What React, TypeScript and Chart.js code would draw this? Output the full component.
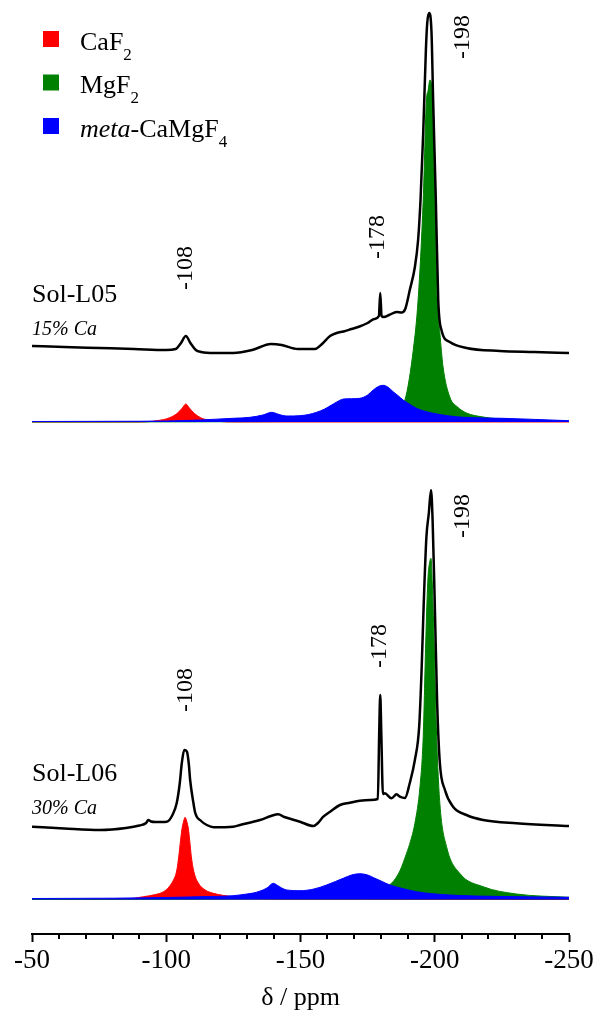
import React, { useEffect, useRef } from "react";
import { Chart, registerables } from "chart.js";

Chart.register(...registerables);

const FONT = '"Liberation Serif", "Times New Roman", serif';

// x-axis
const X_MIN = -250;
const X_MAX = -50;
const MAJOR_STEP = 50;
const MINOR_STEP = 10;
const X_TITLE = "δ / ppm";

// Sol-L05 experimental spectrum (ppm, stacked intensity)
const l05ExpPpm = [-50, -62, -75, -88, -100, -103.5, -105.5, -107.3, -109, -111, -113, -118, -125, -132, -139, -143, -149, -155.4, -158, -161, -163.5, -166, -169, -172, -175, -177.5, -179.2, -179.7, -180.2, -181, -183, -185.8, -187.6, -189, -190.7, -192.6, -193.8, -194.7, -195.7, -196.7, -197.2, -197.9, -198.8, -199.4, -200.4, -201.3, -202.5, -205.6, -211.8, -224.2, -237, -250];
const l05ExpInt = [588, 587, 586, 585, 584, 585, 591, 598, 591, 584, 582, 581, 581, 584, 590, 589, 585, 585, 590, 598, 601, 602.5, 605, 607.5, 611, 615, 618, 641, 618, 617, 619, 622, 621.5, 625, 644, 667, 694, 734, 801, 884, 911, 921, 901, 834, 734, 634, 604, 592, 586, 583, 582, 581];

// Sol-L05 fitted components
const l05CaF2Ppm = [-50, -90, -97, -101, -104, -106, -107.3, -108.6, -110.5, -113, -117, -125, -250];
const l05CaF2Int = [512, 512, 513.5, 516, 520.5, 526, 530, 526, 520.5, 516, 513.5, 512, 512];
const l05MgF2Ppm = [-50, -170, -180, -185, -188.9, -192, -193.8, -195.7, -196.9, -197.5, -198.2, -198.9, -199.4, -200, -200.9, -201.9, -203.1, -205.6, -208.5, -211.8, -218, -224.2, -250];
const l05MgF2Int = [512, 513, 516, 522, 534, 584, 634, 734, 834, 843, 854, 845, 801, 734, 634, 601, 567, 537, 527, 521, 517, 515, 513];
const l05MetaPpm = [-50, -80, -100, -112.6, -124.9, -131.2, -136, -139.3, -142, -144.9, -149.8, -153, -156, -159, -162.2, -164.5, -166, -169, -172.1, -175, -177.1, -179, -180.6, -182.5, -184.5, -186.5, -188.2, -190.5, -193.2, -196, -199.4, -205.6, -212, -225.3, -250];
const l05MetaInt = [512.5, 512.7, 513, 514, 515.7, 516.7, 519, 521.7, 519.5, 518, 518.3, 519.5, 521.7, 525, 530, 533.5, 535, 535.3, 535.7, 539, 544, 547.5, 548.7, 547, 542.3, 538, 534, 530, 525.7, 523, 520.7, 518, 516.5, 515.7, 513.3];
const L05_BASE = 512;

// Sol-L06 experimental spectrum
const l06ExpPpm = [-50, -62, -75.4, -85, -90, -92.5, -93.3, -94.3, -96, -100.2, -102.5, -103.9, -105, -105.8, -106.7, -107.7, -108.4, -108.9, -110, -110.8, -113, -115.1, -117.6, -124.9, -127.5, -134.9, -139, -141.7, -144, -149.8, -154.8, -156.5, -158.5, -161, -164.7, -168.4, -172.1, -176, -178.8, -179.3, -179.7, -180.1, -180.7, -181.4, -183.9, -185.8, -187, -188.9, -190.7, -192.6, -194.2, -195.1, -195.9, -196.9, -197.8, -198.6, -199.2, -200, -200.9, -201.9, -203.8, -206.8, -211.8, -218, -230.4, -250];
const l06ExpInt = [107.3, 105.5, 104, 106, 108.5, 111, 114, 112.5, 112, 112.3, 120, 131, 150, 171, 184, 182.3, 170, 154, 133, 121, 113, 109, 106.7, 107.3, 109, 114, 118, 119.7, 117, 112.3, 108, 111, 117.3, 122.3, 129, 131.3, 133.3, 134, 135, 200, 239, 200, 140, 140.7, 135.7, 139.7, 137.3, 136, 151, 174, 207.3, 264, 331, 397.3, 421, 444, 414, 331, 231, 171, 144, 127.3, 119, 114, 110.7, 108];

// Sol-L06 fitted components
const l06CaF2Ppm = [-50, -85, -91.5, -96, -99, -101, -102.7, -103.8, -104.5, -105.8, -106.5, -107, -107.6, -108.3, -109.5, -110.5, -112, -114.5, -117.6, -124.9, -140, -250];
const l06CaF2Int = [34.5, 35, 37.3, 39.5, 42.3, 47, 54, 62, 74, 104, 113, 116.7, 113, 104, 74, 60, 50.7, 44, 40.7, 37.3, 35, 34.5];
const l06MgF2Ppm = [-50, -150, -165, -175, -180, -183.9, -187, -189.5, -191, -192.6, -194.5, -195.7, -196.7, -197.5, -198, -198.6, -199.1, -199.7, -200.7, -201.9, -204.4, -209.3, -218, -230.4, -250];
const l06MgF2Int = [34.5, 36, 39, 43, 46, 50.7, 63, 80.7, 93, 110.7, 147.3, 197.3, 297.3, 357.3, 370, 375.7, 350, 297.3, 197.3, 130.7, 87.3, 60.7, 47.3, 40, 36.7];
const l06MetaPpm = [-50, -80, -100, -112.6, -124.9, -130, -132.4, -135, -137.5, -139.9, -141.5, -143, -144.9, -149.8, -155, -159.7, -163, -165.9, -169, -172.1, -175, -177.1, -180, -183.3, -188, -193.2, -199, -205.6, -215, -225, -250];
const l06MetaInt = [35.5, 35.8, 36.5, 37.3, 38.3, 40, 41, 43, 46, 50.7, 48.5, 46, 44, 43.3, 45, 49, 52.5, 55.7, 59, 60.3, 59, 56.5, 53, 49, 45.5, 42.3, 40.3, 39, 38, 37.5, 36.7];
const L06_BASE = 34.5;

// Peak annotations (rotated)
const peakLabels = ["-108", "-178", "-198", "-108", "-178", "-198"];
const peakLabelPpm = [-107.1, -178.9, -210.5, -107.1, -179.6, -210.5];
const peakLabelInt = [666, 697, 897, 244, 288, 418];

// Sample labels
const sampleNames = ["Sol-L05", "Sol-L06"];
const sampleNameInt = [632, 153];
const sampleCa = ["15% Ca", "30% Ca"];
const sampleCaInt = [599, 120];

// Legend
const legendColors = ["#ff0000", "#008000", "#0000ff"];
const legendParts = [
  [{ t: "CaF" }, { t: "2", sub: true }],
  [{ t: "MgF" }, { t: "2", sub: true }],
  [{ t: "meta", italic: true }, { t: "-CaMgF" }, { t: "4", sub: true }],
];

const zip = (xs: number[], ys: number[]) => xs.map((x, i) => ({ x, y: ys[i] }));

const textPlugin = {
  id: "texts",
  afterDraw(chart: any) {
    const ctx = chart.ctx as CanvasRenderingContext2D;
    const sx = chart.scales.x;
    const sy = chart.scales.y;
    const bottom = chart.chartArea.bottom;
    ctx.save();
    // minor ticks
    ctx.strokeStyle = "#000";
    ctx.lineWidth = 2;
    for (let v = X_MAX - MINOR_STEP; v > X_MIN; v -= MINOR_STEP) {
      if (v % MAJOR_STEP === 0) continue;
      const px = Math.round(sx.getPixelForValue(v));
      ctx.beginPath();
      ctx.moveTo(px, bottom);
      ctx.lineTo(px, bottom + 5);
      ctx.stroke();
    }
    ctx.fillStyle = "#000";
    // peak labels
    ctx.font = `24px ${FONT}`;
    ctx.textAlign = "center";
    ctx.textBaseline = "middle";
    peakLabels.forEach((t, i) => {
      ctx.save();
      ctx.translate(sx.getPixelForValue(peakLabelPpm[i]), sy.getPixelForValue(peakLabelInt[i]));
      ctx.rotate(-Math.PI / 2);
      ctx.fillText(t, 0, 0);
      ctx.restore();
    });
    // sample labels
    ctx.textAlign = "left";
    ctx.textBaseline = "alphabetic";
    const left = sx.getPixelForValue(X_MAX);
    sampleNames.forEach((t, i) => {
      ctx.font = `26px ${FONT}`;
      ctx.fillText(t, left, sy.getPixelForValue(sampleNameInt[i]));
      ctx.font = `italic 20px ${FONT}`;
      ctx.fillText(sampleCa[i], left, sy.getPixelForValue(sampleCaInt[i]));
    });
    // legend
    const rowTops = [31, 74.5, 118];
    legendParts.forEach((parts, i) => {
      const top = rowTops[i];
      ctx.fillStyle = legendColors[i];
      ctx.fillRect(43, top, 16, 16);
      ctx.fillStyle = "#000";
      let x = 80;
      const base = top + 18.5;
      parts.forEach((p: any) => {
        if (p.sub) {
          ctx.font = `17px ${FONT}`;
          ctx.fillText(p.t, x, base + 10);
          x += ctx.measureText(p.t).width;
        } else {
          ctx.font = `${p.italic ? "italic " : ""}26px ${FONT}`;
          ctx.fillText(p.t, x, base);
          x += ctx.measureText(p.t).width;
        }
      });
    });
    ctx.restore();
  },
};

export default function App() {
  const ref = useRef<HTMLCanvasElement>(null);
  useEffect(() => {
    document.body.style.margin = "0";
    const canvas = ref.current!;
    const fitDs = (data: any, color: string, base: number) => ({
      data,
      borderColor: color,
      backgroundColor: color,
      borderWidth: 1,
      pointRadius: 0,
      fill: { value: base },
      cubicInterpolationMode: "monotone",
    });
    const expDs = (data: any) => ({
      data,
      borderColor: "#000",
      backgroundColor: "#000",
      borderWidth: 2.5,
      pointRadius: 0,
      fill: false,
      cubicInterpolationMode: "monotone",
    });
    const chart = new Chart(canvas, {
      type: "line",
      data: {
        datasets: [
          expDs(zip(l05ExpPpm, l05ExpInt)),
          expDs(zip(l06ExpPpm, l06ExpInt)),
          fitDs(zip(l05MetaPpm, l05MetaInt), "#0000ff", L05_BASE),
          fitDs(zip(l06MetaPpm, l06MetaInt), "#0000ff", L06_BASE),
          fitDs(zip(l05MgF2Ppm, l05MgF2Int), "#008000", L05_BASE),
          fitDs(zip(l06MgF2Ppm, l06MgF2Int), "#008000", L06_BASE),
          fitDs(zip(l05CaF2Ppm, l05CaF2Int), "#ff0000", L05_BASE),
          fitDs(zip(l06CaF2Ppm, l06CaF2Int), "#ff0000", L06_BASE),
        ] as any,
      },
      options: {
        animation: false,
        responsive: false,
        devicePixelRatio: 1,
        layout: { padding: { left: 32, right: 28, top: 0, bottom: 0 } },
        plugins: { legend: { display: false }, tooltip: { enabled: false } },
        scales: {
          x: {
            type: "linear",
            min: X_MIN,
            max: X_MAX,
            reverse: true,
            position: "bottom",
            grid: { display: true, drawOnChartArea: false, drawTicks: true, tickLength: 8, tickWidth: 2, tickColor: "#000" },
            border: { display: true, color: "#000", width: 2 },
            ticks: { stepSize: MAJOR_STEP, color: "#000", font: { family: FONT, size: 27 }, padding: 3, maxRotation: 0, autoSkip: false },
            title: { display: true, text: X_TITLE, color: "#000", font: { family: FONT, size: 26 }, padding: { top: 0, bottom: 0 } },
            afterFit: (s: any) => { s.height = 80; },
          },
          y: { display: false, min: 0, max: 934 },
        },
      } as any,
      plugins: [textPlugin],
    });
    return () => chart.destroy();
  }, []);
  return <canvas ref={ref} width={597} height={1014} style={{ display: "block", width: 597, height: 1014 }} />;
}
